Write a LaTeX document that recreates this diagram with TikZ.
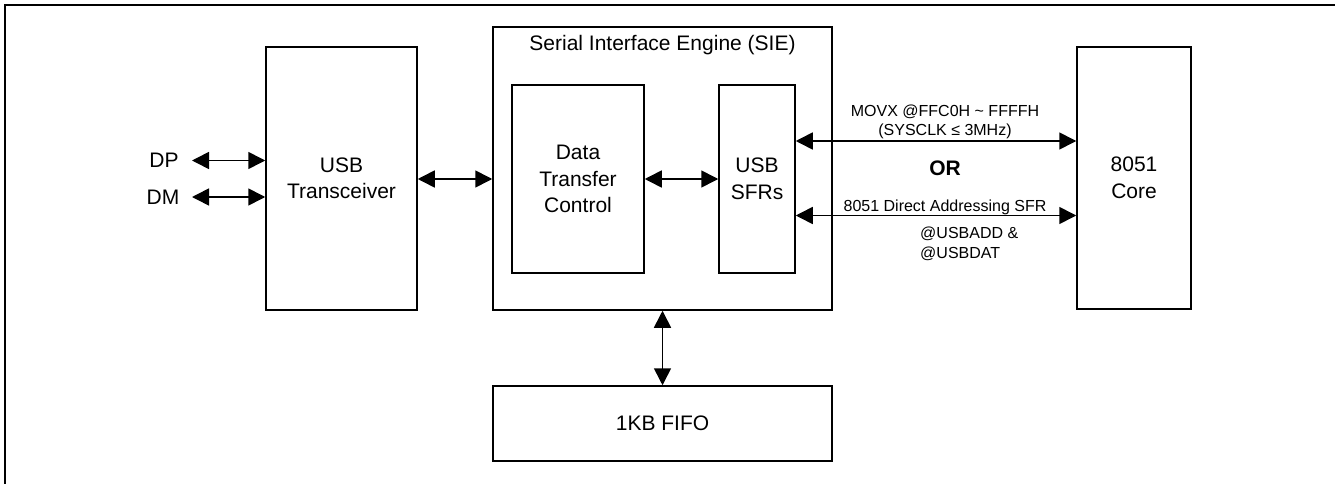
\documentclass[tikz,border=0pt]{standalone}
\usepackage{fontspec}
\setmainfont{Liberation Sans}
\usetikzlibrary{arrows.meta}
\tikzset{
  blk/.style={draw, line width=1.5pt, inner sep=0pt, align=center, font=\fontsize{21}{26.5}\selectfont},
  biarrow/.style={line width=1.6pt, {Triangle[length=17pt,width=17pt]}-{Triangle[length=17pt,width=17pt]}},
  big/.style={font=\fontsize{21}{26.5}\selectfont, inner sep=0pt},
  small/.style={font=\fontsize{16}{19.5}\selectfont, inner sep=0pt, align=center},
}
\begin{document}
\begin{tikzpicture}[x=1pt,y=-1pt]
\useasboundingbox (0,0) rectangle (1335,484);
\begin{scope}
\clip (0,0) rectangle (1335,484);
\draw[line width=2pt] (5,490) -- (5,5) -- (1345,5);
\end{scope}

% blocks
\node[blk, minimum width=151, minimum height=263] (trx) at (341.5,178.5) {USB\\Transceiver};
\node[blk, minimum width=339, minimum height=283] (sie) at (662.5,168.5) {};
\node[big] (sietitle) at (662.5,45) {Serial Interface Engine (SIE)};
\node[blk, minimum width=132, minimum height=188] (dtc) at (578,179) {Data\\Transfer\\Control};
\node[blk, minimum width=76, minimum height=188] (sfr) at (757,179) {USB\\SFRs};
\node[blk, minimum width=114, minimum height=262] (core) at (1134,178) {8051\\Core};
\node[blk, minimum width=339, minimum height=75] (fifo) at (662.5,423.5) {1KB FIFO};

% DP / DM
\node[big] (dp) at (164,160) {DP};
\node[big] (dm) at (163,197) {DM};
\coordinate (dpend) at (192,160.5);
\coordinate (dmend) at (192,197);
\draw[biarrow] (dpend) -- (trx.west |- dpend);
\draw[biarrow] (dmend) -- (trx.west |- dmend);

% internal connectors
\draw[biarrow] (trx.east |- 0,179) -- (sie.west |- 0,179);
\draw[biarrow] (dtc.east) -- (sfr.west);
\draw[biarrow] (sie.south -| fifo.north) -- (fifo.north);

% SFR <-> core
\draw[biarrow] (sfr.east |- 0,141) -- (core.west |- 0,141);
\draw[biarrow] (sfr.east |- 0,215.5) -- (core.west |- 0,215.5);

% labels
\node[small] (movx) at (945,122) {MOVX @FFC0H \char"007E{} FFFFH\\(SYSCLK ≤ 3MHz)};
\node[font=\fontsize{21}{25}\selectfont\bfseries, inner sep=0pt] (or) at (945,168) {OR};
\node[small] (direct) at (945,207) {8051 Direct Addressing SFR};
\node[small, align=left, anchor=west] (usbadd) at (920,244) {@USBADD \&\\@USBDAT};
\end{tikzpicture}
\end{document}
